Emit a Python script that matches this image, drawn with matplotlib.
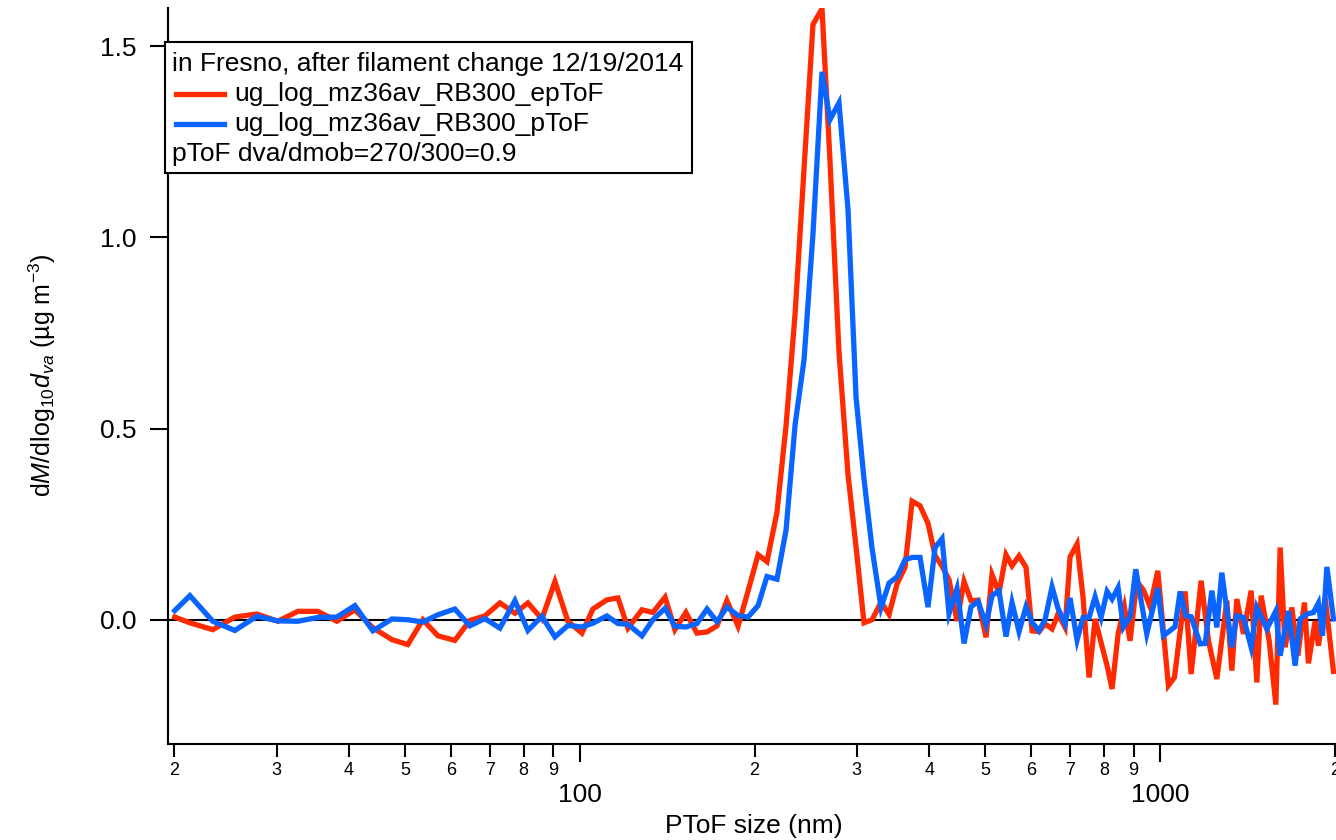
import matplotlib
matplotlib.use("Agg")
import matplotlib.pyplot as plt
from matplotlib.patches import Rectangle
from matplotlib.lines import Line2D
from matplotlib.ticker import LogLocator, FuncFormatter
import math

plt.rcParams['font.family'] = ['Liberation Sans', 'DejaVu Sans']
plt.rcParams['mathtext.fontset'] = 'custom'
plt.rcParams['mathtext.rm'] = 'Liberation Sans'
plt.rcParams['mathtext.it'] = 'Liberation Sans:italic'

# size bins (nm) shared by both traces up to ~850 nm
size_common = [20.03, 21.27, 23.29, 25.42, 27.74, 30.16, 32.65, 35.35, 38.11, 40.94,
               43.97, 47.42, 50.51, 53.62, 56.91, 60.88, 64.60, 68.58, 72.79, 77.27,
               81.35, 86.00, 90.56, 95.35, 100.8, 105.3, 111.3, 116.3, 121.0, 127.9,
               133.6, 140.2, 145.8, 152.3, 159.1, 165.6, 172.3, 179.2, 187.3, 194.9,
               202.8, 210.1, 218.6, 226.6, 234.9, 243.4, 252.2, 261.4, 269.8, 279.6,
               289.8, 299.2, 308.8, 318.8, 330.4, 341.1, 352.1, 363.4, 373.7, 385.7,
               398.1, 409.4, 420.9, 432.7, 446.7, 459.3, 472.2, 485.6, 501.2, 513.2,
               527.7, 542.5, 555.6, 571.3, 587.4, 601.6, 618.5, 633.4, 651.3, 666.9,
               685.8, 699.5, 719.3, 736.6, 754.4, 772.6, 791.2, 810.3, 826.5, 846.5]

eptof_common = [0.007, -0.008, -0.026, 0.007, 0.015, -0.004, 0.022, 0.022, -0.004, 0.026,
                -0.021, -0.052, -0.065, 0.000, -0.042, -0.054, -0.002, 0.010, 0.044, 0.017,
                0.044, 0.002, 0.100, -0.004, -0.035, 0.028, 0.052, 0.057, -0.022, 0.026,
                0.019, 0.059, -0.026, 0.019, -0.035, -0.032, -0.016, 0.050, -0.017, 0.075,
                0.170, 0.152, 0.281, 0.507, 0.800, 1.180, 1.557, 1.598, 1.200, 0.700,
                0.380, 0.190, -0.008, 0.000, 0.046, 0.014, 0.094, 0.137, 0.310, 0.298,
                0.252, 0.168, 0.140, 0.105, -0.003, 0.100, 0.050, 0.051, -0.046, 0.118,
                0.071, 0.170, 0.141, 0.167, 0.137, -0.029, -0.031, -0.011, -0.024, 0.015,
                -0.020, 0.164, 0.198, 0.058, -0.151, 0.002, -0.060, -0.120, -0.181, -0.037]

ptof_common = [0.024, 0.063, -0.004, -0.028, 0.009, -0.003, -0.004, 0.006, 0.007, 0.037,
               -0.029, 0.002, 0.000, -0.006, 0.013, 0.028, -0.016, 0.003, -0.022, 0.050,
               -0.028, 0.009, -0.045, -0.015, -0.019, -0.009, 0.010, -0.010, -0.012, -0.042,
               0.000, 0.030, -0.017, -0.019, -0.010, 0.028, -0.005, 0.033, 0.011, 0.007,
               0.037, 0.113, 0.106, 0.234, 0.510, 0.680, 1.010, 1.433, 1.308, 1.352,
               1.073, 0.582, 0.368, 0.187, 0.032, 0.096, 0.112, 0.157, 0.163, 0.163,
               0.033, 0.189, 0.212, 0.016, 0.082, -0.062, 0.034, 0.048, -0.013, 0.063,
               0.076, -0.044, 0.045, -0.031, 0.034, -0.007, -0.029, 0.000, 0.086, 0.030,
               -0.011, 0.057, -0.053, 0.006, 0.006, 0.060, 0.006, 0.074, 0.054, 0.084]

# large-size tails, read separately for each trace
eptof_tail_size = [867.9, 887.7, 911.6, 935.8, 961.0, 990.9, 1033.5, 1058.5, 1104.4, 1131.0,
                   1176.9, 1211.5, 1252.6, 1303.2, 1329.4, 1356.0, 1392.0, 1435.3, 1468.1, 1493.4,
                   1541.6, 1583.1, 1610.4, 1642.7, 1686.9, 1727.6, 1773.4, 1801.8, 1850.4, 1874.8,
                   1925.3, 1989.8]
eptof_tail = [0.034, -0.055, 0.100, 0.078, 0.034, 0.128, -0.172, -0.151, 0.074, -0.142,
              0.102, -0.055, -0.155, 0.050, -0.133, 0.054, -0.037, 0.076, -0.164, 0.063,
              -0.055, -0.222, 0.189, -0.072, 0.032, -0.094, 0.045, -0.114, -0.003, -0.068,
              0.058, -0.135]

ptof_tail_size = [864.4, 887.7, 907.9, 948.5, 990.9, 1013.2, 1061.4, 1082.7, 1107.5, 1131.0,
                  1172.3, 1196.0, 1228.0, 1252.6, 1277.6, 1329.4, 1356.0, 1392.0, 1435.3, 1468.1,
                  1527.6, 1583.1, 1610.4, 1664.4, 1709.1, 1743.4, 1790.4, 1838.0, 1874.8, 1904.9,
                  1938.5, 1989.8]
ptof_tail = [-0.020, 0.008, 0.132, -0.037, 0.083, -0.042, -0.018, 0.074, 0.010, 0.008,
             -0.063, -0.062, 0.076, -0.020, 0.123, -0.072, 0.010, 0.006, -0.072, 0.032,
             -0.024, 0.023, -0.094, 0.023, -0.120, 0.002, 0.015, 0.019, 0.044, -0.042,
             0.138, 0.002]

legend_title = "in Fresno, after filament change 12/19/2014"
legend_note = "pToF dva/dmob=270/300=0.9"
label_ep = "ug_log_mz36av_RB300_epToF"
label_p = "ug_log_mz36av_RB300_pToF"

red = '#ff2a00'
blue = '#0a64ff'

W, H = 1336, 840
fig = plt.figure(figsize=(W / 100, H / 100), dpi=100)
ax = fig.add_axes([168 / W, 96 / H, (W - 168) / W, (744 - 8) / H])

ax.axhline(0, color='black', lw=1.5, zorder=1)
ax.plot(size_common + eptof_tail_size, eptof_common + eptof_tail, color=red, lw=3.8,
        solid_joinstyle='miter', zorder=3)
ax.plot(size_common + ptof_tail_size, ptof_common + ptof_tail, color=blue, lw=3.8,
        solid_joinstyle='miter', zorder=4)

ax.set_xscale('log')
ax.set_xlim(19.5, 2010)
ax.set_ylim(-0.325, 1.6)

for s in ['top', 'right']:
    ax.spines[s].set_visible(False)
for s in ['left', 'bottom']:
    ax.spines[s].set_linewidth(1.5)

ax.set_yticks([0.0, 0.5, 1.0, 1.5])
ax.yaxis.set_major_formatter(FuncFormatter(lambda v, p: f"{v:.1f}"))
ax.tick_params(axis='y', which='major', length=13, width=1.5, pad=10, labelsize=19)

ax.xaxis.set_major_locator(LogLocator(base=10, numticks=10))
ax.xaxis.set_minor_locator(LogLocator(base=10, subs=range(2, 10), numticks=20))
ax.xaxis.set_major_formatter(FuncFormatter(lambda v, p: f"{v:.0f}"))


def minor_label(v, p):
    return str(int(round(v / 10 ** math.floor(math.log10(v) + 1e-9))))


ax.xaxis.set_minor_formatter(FuncFormatter(minor_label))
ax.tick_params(axis='x', which='major', length=13, width=1.5, pad=15, labelsize=19)
ax.tick_params(axis='x', which='minor', length=9, width=1.5, pad=4, labelsize=13)

ax.set_xlabel("PToF size (nm)", fontsize=19)
ax.xaxis.set_label_coords((754 - 168) / 1168, -(814 - 744) / 736)
ax.set_ylabel(r"d$\it{M}$/dlog$_{10}$$\it{d}_{va}$ (µg m$^{-3}$)", fontsize=18)
ax.yaxis.set_label_coords(-(168 - 58) / 1168, (744 - 375) / 736)

# annotation box (legend)
box = Rectangle((165 / W, 1 - 173 / H), (692 - 165) / W, (173 - 42) / H,
                transform=fig.transFigure, facecolor='white', edgecolor='black',
                lw=1.5, zorder=10)
fig.add_artist(box)
fs = 19
fig.text(172 / W, 1 - 64 / H, legend_title, fontsize=fs, va='center', ha='left', zorder=11)
fig.add_artist(Line2D([176 / W, 224 / W], [1 - 94 / H, 1 - 94 / H], color=red, lw=3.8,
                      transform=fig.transFigure, zorder=11))
fig.text(234 / W, 1 - 94 / H, label_ep, fontsize=fs, va='center', ha='left', zorder=11)
fig.add_artist(Line2D([176 / W, 224 / W], [1 - 124 / H, 1 - 124 / H], color=blue, lw=3.8,
                      transform=fig.transFigure, zorder=11))
fig.text(234 / W, 1 - 124 / H, label_p, fontsize=fs, va='center', ha='left', zorder=11)
fig.text(172 / W, 1 - 154 / H, legend_note, fontsize=fs, va='center', ha='left', zorder=11)

fig.savefig("out.png", dpi=100)
